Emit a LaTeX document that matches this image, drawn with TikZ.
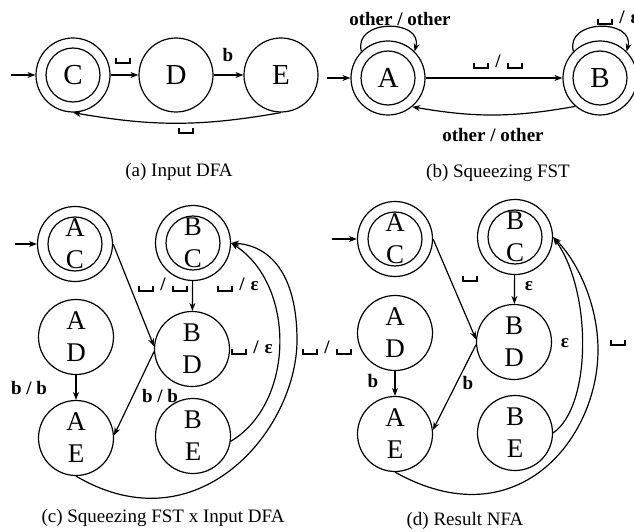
\documentclass[tikz,border=0pt]{standalone}
\usepackage{fontspec}
\setmainfont{Liberation Serif}
\usetikzlibrary{arrows.meta}
\newcommand{\vsp}{\rule[-1pt]{2pt}{6pt}\rule[-1pt]{12pt}{2pt}\rule[-1pt]{2pt}{6pt}}
\newcommand{\ssl}{\hspace{6pt}/\hspace{6pt}}
\begin{document}
\begin{tikzpicture}[x=1pt,y=1pt, line width=1.2pt,
  st/.style={circle,draw,minimum size=74pt,inner sep=0pt,font=\fontsize{29}{32}\selectfont},
  pst/.style={circle,draw,minimum size=75pt,inner sep=0pt,align=center,font=\fontsize{27}{32}\selectfont},
  arr/.style={-{Stealth[length=8pt,width=6pt]}},
  lbl/.style={font=\bfseries\fontsize{19}{22}\selectfont,inner sep=0pt},
  captxt/.style={font=\fontsize{19}{22}\selectfont,inner sep=0pt}]
\useasboundingbox (0,0) rectangle (634,531);

% ---------- (a) Input DFA ----------
\node[st] (C) at (73,456) {C};
\node[st] (D) at (176,456) {D};
\node[st] (E) at (281,456) {E};
\coordinate (ai) at (11,456);
\draw[arr] (ai) -- (C);
\draw[arr] (C) -- (D) node[lbl,at={(122.5,470)}] {\vsp};
\draw[arr] (D) -- (E) node[lbl,at={(228,476)}] {b};
\draw[arr] (E.south) to[bend left=10] (C.south) node[lbl,at={(186,400)}] {\vsp};
\node[captxt] (capa) at (179,359) {(a) Input DFA};

% ---------- (b) Squeezing FST ----------
\node[st] (A) at (388,453) {A};
\node[st] (B) at (600,453) {B};
\coordinate (bi) at (327,453);
\draw[arr] (bi) -- (A);
\draw[arr] (A) -- (B) node[lbl,at={(498,469)}] {\vsp\ssl\vsp};
\draw[arr] (B.-131) to[bend left=10] (A.-50) node[lbl,at={(493,396)}] {other / other};
\draw[arr] (A.135) .. controls +(105:34) and +(75:34) .. (A.45) node[lbl,at={(400,512)}] {other / other};
\draw[arr] (B.135) .. controls +(105:34) and +(75:34) .. (B.45) node[lbl,at={(618,513)}] {\vsp\ssl ε};
\node[captxt] (capb) at (498,358) {(b) Squeezing FST};

% ---------- (c) Squeezing FST x Input DFA ----------
\node[pst] (cAC) at (75,287) {A\\C};
\node[pst] (cBC) at (193,288) {B\\C};
\node[pst] (cAD) at (76,194) {A\\D};
\node[pst] (cBD) at (192,182) {B\\D};
\node[pst] (cAE) at (76,93) {A\\E};
\node[pst] (cBE) at (193,95) {B\\E};
\coordinate (ci) at (15,287);
\draw[arr] (ci) -- (cAC);
\draw[arr] (cAC.east) -- (cBD.176) node[lbl,at={(163,246)}] {\vsp\ssl\vsp};
\draw[arr] (cBC) -- (cBD) node[lbl,at={(238,246)}] {\vsp\ssl ε};
\draw[arr] (cAD) -- (cAE) node[lbl,at={(29,143)}] {b / b};
\draw[arr] (cBD.184) -- (cAE.4) node[lbl,at={(160,135)}] {b / b};
\draw[arr] (cBE.-8) .. controls (295,128) and (296,246) .. (cBC.east)
  node[lbl,at={(252,183)}] {\vsp\ssl ε};
\draw[arr] (cAE.south) .. controls (198,-17) and (297,101) .. (297,191)
  .. controls (297,250) and (275,285) .. (cBC.east)
  node[lbl,at={(327,183)}] {\vsp\ssl\vsp};
\node[captxt] (capc) at (163,13) {(c) Squeezing FST x Input DFA};

% ---------- (d) Result NFA ----------
\node[pst] (dAC) at (395,292) {A\\C};
\node[pst] (dBC) at (515,294) {B\\C};
\node[pst] (dAD) at (395,198) {A\\D};
\node[pst] (dBD) at (514,189) {B\\D};
\node[pst] (dAE) at (395,97) {A\\E};
\node[pst] (dBE) at (515,98) {B\\E};
\coordinate (di) at (332,292);
\draw[arr] (di) -- (dAC);
\draw[arr] (dAC.east) -- (dBD.176) node[lbl,at={(470,252)}] {\vsp};
\draw[arr] (dBC) -- (dBD) node[lbl,at={(529,245)}] {ε};
\draw[arr] (dAD) -- (dAE) node[lbl,at={(373,150)}] {b};
\draw[arr] (dBD.184) -- (dAE.6) node[lbl,at={(468,148)}] {b};
\draw[arr] (dBE.east) .. controls (592,125) and (592,240) .. (dBC.east)
  node[lbl,at={(565,188)}] {ε};
\draw[arr] (dAE.south) .. controls (516,-9) and (598,91) .. (598,181)
  .. controls (598,226) and (578,269) .. (dBC.east)
  node[lbl,at={(618,188)}] {\vsp};
\node[captxt] (capd) at (465,10) {(d) Result NFA};

% accepting states: inner circles
\foreach \n in {C,A,B,cAC,cBC,dAC,dBC} \draw (\n.center) circle[radius=27];
\end{tikzpicture}
\end{document}
